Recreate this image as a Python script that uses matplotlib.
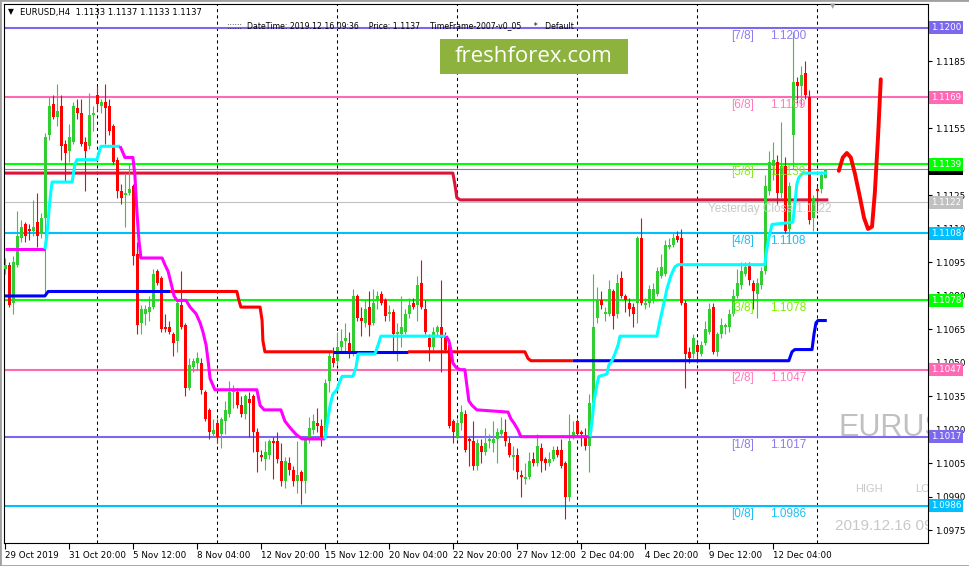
import matplotlib
matplotlib.use("Agg")
import matplotlib.pyplot as plt
from matplotlib.patches import Rectangle

W, H = 970, 566

# EURUSD H4 bars, 29 Oct - 16 Dec 2019
opens = [
    1.1092, 1.1094, 1.1077, 1.1094, 1.1106, 1.1112, 1.1110, 1.1109, 1.1113, 1.1108,
    1.1115, 1.1152, 1.1166, 1.1160, 1.1165, 1.1148, 1.1145, 1.1149, 1.1164, 1.1162,
    1.1149, 1.1147, 1.1161, 1.1170, 1.1165, 1.1167, 1.1165, 1.1156, 1.1141, 1.1127,
    1.1125, 1.1126, 1.1129, 1.1099, 1.1068, 1.1072, 1.1073, 1.1075, 1.1091, 1.1088,
    1.1066, 1.1066, 1.1063, 1.1060, 1.1076, 1.1067, 1.1039, 1.1048, 1.1050, 1.1050,
    1.1037, 1.1029, 1.1018, 1.1023, 1.1018, 1.1024, 1.1027, 1.1037, 1.1037, 1.1031,
    1.1027, 1.1034, 1.1035, 1.1019, 1.1009, 1.1007, 1.1009, 1.1015, 1.1015, 1.1006,
    1.0997, 1.1005, 1.1002, 1.0997, 1.1001, 1.0997, 1.1016, 1.1020, 1.1023, 1.1022,
    1.1018, 1.1042, 1.1052, 1.1051, 1.1057, 1.1060, 1.1059, 1.1054, 1.1080, 1.1070,
    1.1068, 1.1075, 1.1068, 1.1078, 1.1081, 1.1078, 1.1072, 1.1073, 1.1063, 1.1063,
    1.1064, 1.1072, 1.1077, 1.1076, 1.1086, 1.1074, 1.1061, 1.1057, 1.1064, 1.1066,
    1.1062, 1.1058, 1.1024, 1.1017, 1.1023, 1.1027, 1.1016, 1.1015, 1.1004, 1.1013,
    1.1010, 1.1015, 1.1014, 1.1016, 1.1018, 1.1019, 1.1014, 1.1008, 1.1009, 1.1000,
    1.0998, 1.0999, 1.1007, 1.1005, 1.1012, 1.1007, 1.1005, 1.1007, 1.1011, 1.1011,
    1.1005, 1.0990, 1.1017, 1.1024, 1.1019, 1.1017, 1.1013, 1.1032, 1.1070, 1.1078,
    1.1072, 1.1072, 1.1082, 1.1072, 1.1088, 1.1080, 1.1077, 1.1075, 1.1077, 1.1106,
    1.1076, 1.1077, 1.1078, 1.1081, 1.1089, 1.1090, 1.1102, 1.1103, 1.1107, 1.1106,
    1.1077, 1.1055, 1.1054, 1.1058, 1.1054, 1.1059, 1.1064, 1.1075, 1.1055, 1.1063,
    1.1066, 1.1066, 1.1072, 1.1080, 1.1085, 1.1090, 1.1094, 1.1086, 1.1081, 1.1085,
    1.1091, 1.1127, 1.1138, 1.1140, 1.1126, 1.1138, 1.1110, 1.1152, 1.1176, 1.1174,
    1.1180, 1.1169, 1.1115, 1.1128, 1.1128, 1.1133,
]
highs = [
    1.1097, 1.1095, 1.1098, 1.1118, 1.1114, 1.1113, 1.1112, 1.1123, 1.1126, 1.1117,
    1.1153, 1.1169, 1.1170, 1.1175, 1.1170, 1.1150, 1.1157, 1.1167, 1.1168, 1.1168,
    1.1151, 1.1171, 1.1165, 1.1174, 1.1168, 1.1175, 1.1168, 1.1157, 1.1142, 1.1130,
    1.1135, 1.1139, 1.1130, 1.1104, 1.1076, 1.1076, 1.1080, 1.1092, 1.1092, 1.1089,
    1.1072, 1.1069, 1.1064, 1.1078, 1.1091, 1.1068, 1.1052, 1.1052, 1.1055, 1.1052,
    1.1038, 1.1030, 1.1025, 1.1025, 1.1026, 1.1033, 1.1042, 1.1040, 1.1039, 1.1035,
    1.1036, 1.1037, 1.1036, 1.1021, 1.1011, 1.1015, 1.1016, 1.1017, 1.1019, 1.1014,
    1.1008, 1.1008, 1.1004, 1.1015, 1.1002, 1.1017, 1.1026, 1.1027, 1.1030, 1.1025,
    1.1043, 1.1055, 1.1057, 1.1064, 1.1065, 1.1068, 1.1064, 1.1083, 1.1081, 1.1075,
    1.1078, 1.1082, 1.1083, 1.1082, 1.1082, 1.1079, 1.1076, 1.1074, 1.1068, 1.1080,
    1.1074, 1.1079, 1.1079, 1.1089, 1.1096, 1.1078, 1.1063, 1.1066, 1.1067, 1.1087,
    1.1064, 1.1059, 1.1025, 1.1025, 1.1031, 1.1029, 1.1017, 1.1024, 1.1016, 1.1016,
    1.1021, 1.1018, 1.1024, 1.1021, 1.1026, 1.1025, 1.1017, 1.1013, 1.1012, 1.1002,
    1.1005, 1.1010, 1.1010, 1.1018, 1.1014, 1.1008, 1.1010, 1.1013, 1.1013, 1.1016,
    1.1006, 1.1027, 1.1024, 1.1025, 1.1020, 1.1021, 1.1036, 1.1090, 1.1084, 1.1082,
    1.1075, 1.1087, 1.1083, 1.1090, 1.1091, 1.1081, 1.1079, 1.1077, 1.1107, 1.1115,
    1.1079, 1.1085, 1.1086, 1.1093, 1.1099, 1.1105, 1.1106, 1.1108, 1.1109, 1.1110,
    1.1078, 1.1057, 1.1063, 1.1060, 1.1060, 1.1069, 1.1077, 1.1077, 1.1064, 1.1070,
    1.1068, 1.1074, 1.1083, 1.1092, 1.1095, 1.1095, 1.1095, 1.1087, 1.1088, 1.1093,
    1.1134, 1.1145, 1.1149, 1.1143, 1.1158, 1.1142, 1.1131, 1.1198, 1.1178, 1.1183,
    1.1185, 1.1172, 1.1125, 1.1129, 1.1136, 1.1137,
]
lows = [
    1.1090, 1.1075, 1.1072, 1.1093, 1.1104, 1.1104, 1.1105, 1.1107, 1.1102, 1.1106,
    1.1081, 1.1150, 1.1159, 1.1156, 1.1141, 1.1131, 1.1140, 1.1148, 1.1159, 1.1147,
    1.1127, 1.1146, 1.1154, 1.1163, 1.1162, 1.1148, 1.1152, 1.1139, 1.1124, 1.1121,
    1.1111, 1.1125, 1.1094, 1.1063, 1.1063, 1.1067, 1.1069, 1.1074, 1.1085, 1.1064,
    1.1064, 1.1063, 1.1053, 1.1055, 1.1065, 1.1035, 1.1038, 1.1046, 1.1047, 1.1036,
    1.1024, 1.1016, 1.1017, 1.1014, 1.1012, 1.1018, 1.1026, 1.1030, 1.1030, 1.1026,
    1.1025, 1.1017, 1.1010, 1.1001, 1.1006, 1.1002, 1.1007, 1.0998, 1.1005, 1.0995,
    1.0994, 1.1000, 1.0995, 1.0992, 1.0987, 1.0992, 1.1014, 1.1018, 1.1019, 1.1013,
    1.1016, 1.1037, 1.1048, 1.1049, 1.1055, 1.1055, 1.1052, 1.1053, 1.1069, 1.1062,
    1.1066, 1.1062, 1.1067, 1.1074, 1.1076, 1.1069, 1.1069, 1.1055, 1.1051, 1.1057,
    1.1063, 1.1070, 1.1074, 1.1069, 1.1074, 1.1063, 1.1051, 1.1056, 1.1062, 1.1046,
    1.1055, 1.1021, 1.1014, 1.1016, 1.1020, 1.1010, 1.1004, 1.1002, 1.1002, 1.1005,
    1.1009, 1.1012, 1.1010, 1.1005, 1.1017, 1.1013, 1.1008, 1.1002, 1.0998, 1.0990,
    1.0996, 1.0998, 1.1004, 1.1004, 1.1001, 1.1002, 1.1004, 1.1006, 1.1008, 1.1003,
    1.0980, 1.0988, 1.1016, 1.1017, 1.1013, 1.1011, 1.1001, 1.1030, 1.1068, 1.1074,
    1.1069, 1.1071, 1.1065, 1.1070, 1.1079, 1.1073, 1.1071, 1.1066, 1.1068, 1.1076,
    1.1074, 1.1075, 1.1077, 1.1080, 1.1088, 1.1089, 1.1101, 1.1102, 1.1104, 1.1076,
    1.1039, 1.1050, 1.1052, 1.1050, 1.1053, 1.1058, 1.1063, 1.1054, 1.1053, 1.1061,
    1.1063, 1.1064, 1.1071, 1.1079, 1.1083, 1.1089, 1.1085, 1.1074, 1.1070, 1.1083,
    1.1090, 1.1125, 1.1132, 1.1121, 1.1124, 1.1108, 1.1104, 1.1137, 1.1166, 1.1165,
    1.1168, 1.1112, 1.1109, 1.1117, 1.1126, 1.1133,
]
closes = [
    1.1094, 1.1076, 1.1095, 1.1107, 1.1111, 1.1107, 1.1109, 1.1111, 1.1107, 1.1115,
    1.1151, 1.1165, 1.1160, 1.1163, 1.1147, 1.1144, 1.1151, 1.1165, 1.1162, 1.1148,
    1.1145, 1.1161, 1.1162, 1.1166, 1.1167, 1.1164, 1.1154, 1.1140, 1.1127, 1.1124,
    1.1126, 1.1128, 1.1098, 1.1067, 1.1074, 1.1074, 1.1075, 1.1090, 1.1086, 1.1065,
    1.1065, 1.1064, 1.1059, 1.1077, 1.1066, 1.1039, 1.1049, 1.1051, 1.1052, 1.1038,
    1.1025, 1.1019, 1.1020, 1.1017, 1.1025, 1.1029, 1.1037, 1.1038, 1.1031, 1.1027,
    1.1035, 1.1032, 1.1019, 1.1010, 1.1008, 1.1010, 1.1015, 1.1014, 1.1007, 1.0997,
    1.1006, 1.1002, 1.0997, 1.1000, 1.0997, 1.1016, 1.1021, 1.1024, 1.1022, 1.1017,
    1.1041, 1.1053, 1.1050, 1.1057, 1.1060, 1.1061, 1.1054, 1.1080, 1.1070, 1.1069,
    1.1074, 1.1067, 1.1077, 1.1080, 1.1077, 1.1071, 1.1073, 1.1063, 1.1064, 1.1066,
    1.1072, 1.1076, 1.1075, 1.1085, 1.1075, 1.1064, 1.1057, 1.1064, 1.1066, 1.1061,
    1.1056, 1.1022, 1.1019, 1.1023, 1.1028, 1.1011, 1.1015, 1.1004, 1.1014, 1.1010,
    1.1014, 1.1016, 1.1016, 1.1019, 1.1020, 1.1015, 1.1009, 1.1009, 1.1001, 1.0999,
    1.0999, 1.1006, 1.1005, 1.1013, 1.1006, 1.1005, 1.1007, 1.1011, 1.1009, 1.1004,
    1.0990, 1.1015, 1.1019, 1.1018, 1.1018, 1.1013, 1.1032, 1.1066, 1.1078, 1.1076,
    1.1073, 1.1083, 1.1071, 1.1086, 1.1080, 1.1078, 1.1074, 1.1072, 1.1106, 1.1077,
    1.1077, 1.1083, 1.1083, 1.1091, 1.1093, 1.1103, 1.1103, 1.1106, 1.1105, 1.1077,
    1.1054, 1.1052, 1.1061, 1.1055, 1.1058, 1.1065, 1.1074, 1.1055, 1.1063, 1.1067,
    1.1067, 1.1072, 1.1080, 1.1086, 1.1091, 1.1093, 1.1087, 1.1082, 1.1086, 1.1091,
    1.1129, 1.1140, 1.1141, 1.1126, 1.1138, 1.1109, 1.1129, 1.1176, 1.1174, 1.1179,
    1.1170, 1.1114, 1.1124, 1.1127, 1.1134, 1.1137,
]

# Murrey math levels
levels = [1.1200, 1.1169, 1.1139, 1.1108, 1.1078, 1.1047, 1.1017, 1.0986]
level_names = ["[7/8]", "[6/8]", "[5/8]", "[4/8]", "[3/8]", "[2/8]", "[1/8]", "[0/8]"]
level_colors = ["#7B68EE", "#FF69B4", "#00FF00", "#00BFFF",
                "#00FF00", "#FF69B4", "#7B68EE", "#00BFFF"]
level_text_colors = ["#8C7CF0", "#FF7BBE", "#8CE62A", "#1EC0F5",
                     "#7CF000", "#FF7BBE", "#8C7CF0", "#1EC0F5"]

bid = 1.1137
yesterday_close = 1.1122

# trailing stop line, split into magenta (short) / cyan (long) pieces
trail_bars = [
    [-0.1, 9.9],
    [9.9, 10.4, 10.9, 11.4, 11.7, 16.7, 17.4, 17.9, 22.9, 23.4, 23.9, 28.7],
    [28.7, 29.2, 29.9, 31.9, 32.4, 32.9, 33.4, 33.9, 39.2, 39.9, 40.7, 41.4, 42.2, 42.9,
     45.2, 46.2, 47.7, 48.7, 49.4, 50.2, 50.7, 51.2, 52.4, 62.9, 63.7, 64.7, 68.9, 69.9,
     71.2, 72.7, 74.2, 79.9],
    [79.9, 80.4, 81.2, 81.9, 82.9, 83.7, 84.2, 86.9, 87.7, 88.2, 92.4, 93.2, 93.9, 110.2],
    [110.2, 110.9, 111.4, 111.9, 112.7, 113.7, 114.9, 115.4, 115.9, 116.7, 117.9, 125.7,
     126.4, 127.2, 128.2, 128.9, 146.2],
    [146.2, 146.7, 147.2, 147.9, 148.4, 150.4, 150.9, 151.7, 152.4, 153.2, 153.7, 162.9,
     163.7, 164.7, 165.4, 166.4, 167.4, 168.2, 189.9, 190.4, 190.9, 191.7, 196.9, 197.4,
     197.9, 198.4, 199.4, 205.4],
]
trail_prices = [
    [1.1101, 1.1101],
    [1.1101, 1.1107, 1.1118, 1.1127, 1.1131, 1.1131, 1.1139, 1.1141, 1.1141, 1.1144,
     1.1147, 1.1147],
    [1.1147, 1.1145, 1.1142, 1.1142, 1.1134, 1.1118, 1.1105, 1.1097, 1.1097, 1.1094,
     1.1091, 1.1086, 1.1080, 1.1078, 1.1078, 1.1075, 1.1072, 1.1068, 1.1064, 1.1058,
     1.1051, 1.1043, 1.1038, 1.1038, 1.1031, 1.1029, 1.1029, 1.1024, 1.1021, 1.1018,
     1.1016, 1.1016],
    [1.1016, 1.1022, 1.1031, 1.1036, 1.1038, 1.1042, 1.1044, 1.1044, 1.1048, 1.1054,
     1.1054, 1.1058, 1.1062, 1.1062],
    [1.1062, 1.1060, 1.1056, 1.1050, 1.1048, 1.1047, 1.1047, 1.1040, 1.1033, 1.1031,
     1.1029, 1.1028, 1.1025, 1.1023, 1.1020, 1.1017, 1.1017],
    [1.1017, 1.1024, 1.1033, 1.1040, 1.1044, 1.1045, 1.1049, 1.1051, 1.1054, 1.1058,
     1.1062, 1.1062, 1.1069, 1.1077, 1.1083, 1.1089, 1.1093, 1.1094, 1.1094, 1.1101,
     1.1106, 1.1112, 1.1113, 1.1121, 1.1130, 1.1133, 1.1135, 1.1135],
]
trail_colors = ["#FF00FF", "#00FFFF", "#FF00FF", "#00FFFF", "#FF00FF", "#00FFFF"]

# slower stop line, blue (long) / red (short)
stop_bars = [
    [-0.1, 9.9, 10.7, 41.2],
    [41.2, 57.9, 58.4, 58.9, 63.7, 64.2, 64.4, 64.9, 81.9],
    [81.9, 100.7],
    [100.7, 129.9, 130.7, 131.4, 141.9],
    [141.9, 195.9, 196.7, 197.4, 201.7, 202.2, 202.7, 203.2, 205.4],
]
stop_prices = [
    [1.1080, 1.1080, 1.1082, 1.1082],
    [1.1082, 1.1082, 1.1078, 1.1075, 1.1075, 1.1069, 1.1060, 1.1055, 1.1055],
    [1.1055, 1.1055],
    [1.1055, 1.1055, 1.1052, 1.1051, 1.1051],
    [1.1051, 1.1051, 1.1055, 1.1056, 1.1056, 1.1063, 1.1068, 1.1069, 1.1069],
]
stop_colors = ["#0000FF", "#FF0000", "#0000FF", "#FF0000", "#0000FF"]

# weekly open line
wopen_bars = [-0.1, 111.9, 112.4, 112.9, 113.7, 205.4]
wopen_prices = [1.1135, 1.1135, 1.1130, 1.1124, 1.1123, 1.1123]

# hand drawn forecast curve
curve_bars = [208.4, 209.4, 210.4, 211.4, 212.4, 213.7, 214.7, 215.7, 216.7, 217.4, 218.2, 218.9]
curve_prices = [1.1136, 1.1142, 1.1144, 1.1142, 1.1135, 1.1124, 1.1115, 1.1110, 1.1111,
                1.1126, 1.1151, 1.1177]

separator_bars = [23, 53, 83, 113, 143, 173, 203]
date_bars = [0, 16, 32, 48, 64, 80, 96, 112, 128, 144, 160, 176, 192]
date_labels = ["29 Oct 2019", "31 Oct 20:00", "5 Nov 12:00", "8 Nov 04:00", "12 Nov 20:00",
               "15 Nov 12:00", "20 Nov 04:00", "22 Nov 20:00", "27 Nov 12:00",
               "2 Dec 04:00", "4 Dec 20:00", "9 Dec 12:00", "12 Dec 04:00"]
price_ticks = [1.0975, 1.0990, 1.1005, 1.1020, 1.1035, 1.1050, 1.1065, 1.1080,
               1.1095, 1.1110, 1.1125, 1.1155, 1.1185]

bull, bear = "#32CD32", "#FF0000"
small = "DejaVu Sans"
label_font = "Liberation Sans"

fig = plt.figure(figsize=(W / 100, H / 100), dpi=100)
ax = fig.add_axes([4 / W, (H - 543) / H, 924 / W, 539 / H])
ax.set_xlim(-0.33, 230.7)
ax.set_ylim(1.09694, 1.12107)

# horizontal levels
for lv, col in zip(levels, level_colors):
    ax.axhline(lv, color=col, lw=1.5, zorder=1.5)
ax.axhline(yesterday_close, color="#C0C0C0", lw=0.8, zorder=1.4)
ax.axhline(bid, color="#778899", lw=0.8, zorder=1.4)

for b in separator_bars:
    ax.axvline(b, color="black", lw=0.75, ls=(0, (3, 3)), zorder=1)

# candles
for i, (o, h, l, c) in enumerate(zip(opens, highs, lows, closes)):
    col = bull if c >= o else bear
    ax.vlines(i, l, h, color=col, lw=0.8, zorder=3)
    ax.bar(i, max(abs(c - o), 0.00005), bottom=min(o, c), width=0.72,
           color=col, lw=0, zorder=3)

# indicator lines
ax.plot(wopen_bars, wopen_prices, color="#DC143C", lw=2.2, zorder=2.5)
for bx, py, col in zip(stop_bars, stop_prices, stop_colors):
    ax.plot(bx, py, color=col, lw=2.2, zorder=4, solid_capstyle="butt")
for bx, py, col in zip(trail_bars, trail_prices, trail_colors):
    ax.plot(bx, py, color=col, lw=2.2, zorder=4.2, solid_capstyle="butt")
ax.plot(curve_bars, curve_prices, color="#FF0000", lw=2.8, zorder=4,
        solid_capstyle="round", solid_joinstyle="round")

# level captions
for lv, name, tcol in zip(levels, level_names, level_text_colors):
    ax.text(181.4, lv - 0.00036, name, color=tcol, fontsize=8.5, family=label_font,
            va="center", ha="left", zorder=5)
    ax.text(191.3, lv - 0.00036, f"{lv:.4f}", color=tcol, fontsize=8.5, family=label_font,
            va="center", ha="left", zorder=5)
ax.text(175.7, yesterday_close - 0.00031, f"Yesterday Close {yesterday_close:.4f}",
        color="#C8C8C8", fontsize=8.5, family=label_font, va="center", ha="left", zorder=5)

# watermark texts, cut off by the right edge of the chart as in MT4
ax.text(0.9026, 0.213, "EURUSD", transform=ax.transAxes, color="#C0C0C0", fontsize=22,
        family=label_font, va="center", ha="left", zorder=0.5, clip_on=True)
ax.text(0.921, 0.100, "HIGH", transform=ax.transAxes, color="#C8C8C8", fontsize=8,
        family=label_font, va="center", ha="left", zorder=0.5, clip_on=True)
ax.text(0.986, 0.100, "LOW", transform=ax.transAxes, color="#C8C8C8", fontsize=8,
        family=label_font, va="center", ha="left", zorder=0.5, clip_on=True)
ax.text(0.899, 0.031, "2019.12.16 09:36", transform=ax.transAxes, color="#C8C8C8",
        fontsize=11, family=label_font, va="center", ha="left", zorder=0.5, clip_on=True)

# axes styling
for s in ax.spines.values():
    s.set_color("black")
    s.set_linewidth(0.8)
ax.yaxis.tick_right()
ax.set_yticks(price_ticks)
ax.set_yticklabels([f"{t:.4f}" for t in price_ticks], fontsize=6.3, family=small)
ax.tick_params(axis="y", direction="out", length=3, width=0.8, pad=2)
ax.set_xticks(date_bars)
ax.set_xticklabels(date_labels, fontsize=6.3, family=small, ha="left")
ax.tick_params(axis="x", direction="out", length=4, width=0.8, pad=2)

# price boxes on the right scale
ytr = ax.get_yaxis_transform()
boxes = [(bid, "black")] + list(zip(levels, level_colors)) + [(yesterday_close, "#C0C0C0")]
for p, col in boxes:
    ax.text(1.003, p, f"{p:.4f}", transform=ytr, color="white", fontsize=6.3, family=small,
            va="center", ha="left", clip_on=False, zorder=6,
            bbox=dict(boxstyle="square,pad=0.22", fc=col, ec="none"))

# header
fig.text(8 / W, 1 - 12 / H, "\u25bc", fontsize=5.5, va="center", ha="left")
fig.text(20 / W, 1 - 12 / H, "EURUSD,H4  1.1133 1.1137 1.1133 1.1137", fontsize=6.1,
         family=small, va="center", ha="left")
fig.text(227 / W, 1 - 25.5 / H,
         "::::::  DateTime: 2019.12.16 09:36    Price: 1.1137    TimeFrame-2007-v0_05     *   Default",
         fontsize=5.6, family=small, va="center", ha="left")
fig.text(833 / W, 1 - 6 / H, "\u25bc", fontsize=5, color="#A0A0A0", va="center", ha="center")

# freshforex badge
fig.patches.append(Rectangle((440 / W, 1 - 74 / H), 188 / W, 35 / H, transform=fig.transFigure,
                             fc="#8DB33E", ec="none", zorder=5))
fig.text(534 / W, 1 - 56.5 / H, "freshforex.com", color="white", fontsize=16,
         family="Open Sans", va="center", ha="center", zorder=6)

# window frame
fig.patches.append(Rectangle((0, 0), 1, 1, transform=fig.transFigure, fill=False,
                             ec="#A0A0A0", lw=2))

fig.savefig("out.png", dpi=100)
